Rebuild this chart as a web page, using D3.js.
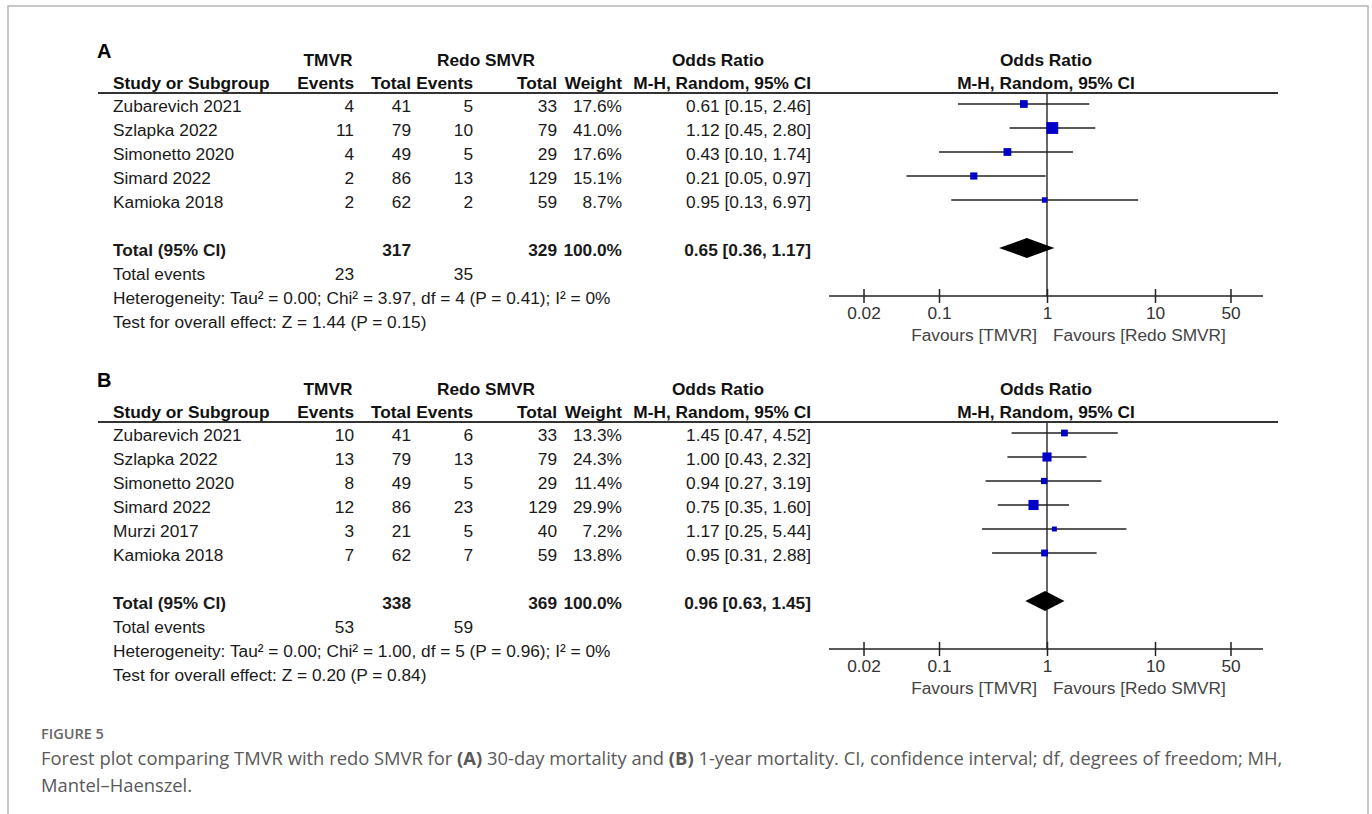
<!DOCTYPE html>
<html><head><meta charset="utf-8">
<script src="https://cdn.jsdelivr.net/npm/d3@7"></script>
<style>body{margin:0;background:#fff;} svg{display:block;}</style>
</head><body>
<svg id="c" width="1372" height="814"></svg>
<script>
// ---------- DATA ----------
const studiesA = ["Zubarevich 2021","Szlapka 2022","Simonetto 2020","Simard 2022","Kamioka 2018"];
const tmvrEventsA = [4,11,4,2,2];
const tmvrTotalA = [41,79,49,86,62];
const redoEventsA = [5,10,5,13,2];
const redoTotalA = [33,79,29,129,59];
const weightA = [17.6,41.0,17.6,15.1,8.7];
const orA = [0.61,1.12,0.43,0.21,0.95];
const lowA = [0.15,0.45,0.10,0.05,0.13];
const highA = [2.46,2.80,1.74,0.97,6.97];
const totalA = {tmvr:317, redo:329, or:0.65, low:0.36, high:1.17, evT:23, evR:35,
  het:"Heterogeneity: Tau² = 0.00; Chi² = 3.97, df = 4 (P = 0.41); I² = 0%",
  test:"Test for overall effect: Z = 1.44 (P = 0.15)"};

const studiesB = ["Zubarevich 2021","Szlapka 2022","Simonetto 2020","Simard 2022","Murzi 2017","Kamioka 2018"];
const tmvrEventsB = [10,13,8,12,3,7];
const tmvrTotalB = [41,79,49,86,21,62];
const redoEventsB = [6,13,5,23,5,7];
const redoTotalB = [33,79,29,129,40,59];
const weightB = [13.3,24.3,11.4,29.9,7.2,13.8];
const orB = [1.45,1.00,0.94,0.75,1.17,0.95];
const lowB = [0.47,0.43,0.27,0.35,0.25,0.31];
const highB = [4.52,2.32,3.19,1.60,5.44,2.88];
const totalB = {tmvr:338, redo:369, or:0.96, low:0.63, high:1.45, evT:53, evR:59,
  het:"Heterogeneity: Tau² = 0.00; Chi² = 1.00, df = 5 (P = 0.96); I² = 0%",
  test:"Test for overall effect: Z = 0.20 (P = 0.84)"};

const tickValues = [0.02, 0.1, 1, 10, 50];
const tickLabels = ["0.02","0.1","1","10","50"];

// ---------- DRAW ----------
const svg = d3.select("#c");
svg.append("path").attr("d","M8,814 L8,6 L1368,6 L1368,814")
  .attr("fill","none").attr("stroke","#b5b5b5").attr("stroke-width",1.5);

const FONT = "'Liberation Sans', Arial, sans-serif";
const FS = 17.3;
const x = d3.scaleLog().domain([0.01,100]).range([831,1263]);
const col = {ev1:354, tot1:411, ev2:473, tot2:557, wt:622, ci:811};
const fmt2 = d3.format(".2f");
const fmtW = d3.format(".1f");
const BASE = 8; // baseline offset from row centre

function txt(g, s, xx, yc, anchor, bold, color, fs){
  return g.append("text").attr("x",xx).attr("y",yc + BASE)
    .attr("text-anchor",anchor||"start")
    .attr("font-family",FONT).attr("font-size",fs||FS)
    .attr("font-weight",bold?"bold":"normal")
    .attr("fill",color||"#1a1a1a").text(s);
}

function panel(label, u, studies, te, tt, re, rt, w, or, lo, hi, tot){
  const g = svg.append("g");
  g.append("text").attr("x",97).attr("y",u-35).attr("font-family",FONT)
    .attr("font-size",20).attr("font-weight","bold").attr("fill","#000").text(label);
  const h1 = u-35;
  txt(g,"TMVR",328,h1,"middle",true,"#111");
  txt(g,"Redo SMVR",486,h1,"middle",true,"#111");
  txt(g,"Odds Ratio",718,h1,"middle",true,"#111");
  txt(g,"Odds Ratio",1046,h1,"middle",true,"#111");
  const h2 = u-12;
  txt(g,"Study or Subgroup",113,h2,"start",true,"#111");
  txt(g,"Events",col.ev1,h2,"end",true,"#111");
  txt(g,"Total",col.tot1,h2,"end",true,"#111");
  txt(g,"Events",col.ev2,h2,"end",true,"#111");
  txt(g,"Total",col.tot2,h2,"end",true,"#111");
  txt(g,"Weight",col.wt,h2,"end",true,"#111");
  txt(g,"M-H, Random, 95% CI",col.ci,h2,"end",true,"#111");
  txt(g,"M-H, Random, 95% CI",1046,h2,"middle",true,"#111");
  g.append("line").attr("x1",98).attr("x2",1278).attr("y1",u).attr("y2",u)
    .attr("stroke","#333").attr("stroke-width",2);

  const y = d3.scaleLinear().domain([0,1]).range([u+11, u+35]);
  const n = studies.length;
  const yTot = y(n+1);
  const yEv = y(n+2), yHet = y(n+3), yTest = y(n+4);
  const yAxis = yHet;

  g.append("line").attr("x1",x(1)).attr("x2",x(1)).attr("y1",u).attr("y2",yAxis)
    .attr("stroke","#333").attr("stroke-width",1.5);

  studies.forEach((s,i)=>{
    const yc = y(i);
    txt(g,s,113,yc);
    txt(g,te[i],col.ev1,yc,"end");
    txt(g,tt[i],col.tot1,yc,"end");
    txt(g,re[i],col.ev2,yc,"end");
    txt(g,rt[i],col.tot2,yc,"end");
    txt(g,fmtW(w[i])+"%",col.wt,yc,"end");
    txt(g,`${fmt2(or[i])} [${fmt2(lo[i])}, ${fmt2(hi[i])}]`,col.ci,yc,"end");
    g.append("line").attr("x1",x(lo[i])).attr("x2",x(hi[i])).attr("y1",yc).attr("y2",yc)
      .attr("stroke","#222").attr("stroke-width",1.5);
    const side = 1.85*Math.sqrt(w[i]);
    g.append("rect").attr("x",x(or[i])-side/2).attr("y",yc-side/2)
      .attr("width",side).attr("height",side).attr("fill","#0000c8");
  });

  txt(g,"Total (95% CI)",113,yTot,"start",true);
  txt(g,tot.tmvr,col.tot1,yTot,"end",true);
  txt(g,tot.redo,col.tot2,yTot,"end",true);
  txt(g,"100.0%",col.wt,yTot,"end",true);
  txt(g,`${fmt2(tot.or)} [${fmt2(tot.low)}, ${fmt2(tot.high)}]`,col.ci,yTot,"end",true);
  g.append("polygon").attr("points",[
      [x(tot.low),yTot],[x(tot.or),yTot-10],[x(tot.high),yTot],[x(tot.or),yTot+10]
    ].map(p=>p.join(",")).join(" ")).attr("fill","#000");
  txt(g,"Total events",113,yEv);
  txt(g,tot.evT,col.ev1,yEv,"end");
  txt(g,tot.evR,col.ev2,yEv,"end");
  txt(g,tot.het,113,yHet);
  txt(g,tot.test,113,yTest);

  const ax = g.append("g").attr("transform",`translate(0,${yAxis})`)
    .call(d3.axisBottom(x).tickValues(tickValues).tickFormat((d,i)=>tickLabels[i]).tickSizeOuter(0).tickSize(7));
  ax.select(".domain").attr("stroke","#222").attr("stroke-width",1.5).attr("d","M829,0H1263");
  ax.selectAll(".tick line").attr("y1",-7).attr("y2",7).attr("stroke","#222").attr("stroke-width",1.5);
  ax.selectAll(".tick text").attr("y",11).attr("dy","0.71em").attr("font-family",FONT)
    .attr("font-size",FS).attr("fill","#333");
  txt(g,"Favours [TMVR]",1037,yAxis+37,"end",false,"#444");
  txt(g,"Favours [Redo SMVR]",1053,yAxis+37,"start",false,"#444");
}

panel("A", 93, studiesA, tmvrEventsA, tmvrTotalA, redoEventsA, redoTotalA, weightA, orA, lowA, highA, totalA);
panel("B", 422, studiesB, tmvrEventsB, tmvrTotalB, redoEventsB, redoTotalB, weightB, orB, lowB, highB, totalB);

// caption
const CF = "'Open Sans', 'Noto Sans', sans-serif";
svg.append("text").attr("x",41).attr("y",739).attr("font-family",CF).attr("font-size",14.5)
  .attr("font-weight",600).attr("fill","#666").text("FIGURE 5");
const c1 = svg.append("text").attr("x",41).attr("y",765).attr("font-family",CF)
  .attr("font-size",16.5).attr("fill","#595959");
c1.append("tspan").text("Forest plot comparing TMVR with redo SMVR for ");
c1.append("tspan").attr("font-weight","bold").text("(A)");
c1.append("tspan").text(" 30-day mortality and ");
c1.append("tspan").attr("font-weight","bold").text("(B)");
c1.append("tspan").text(" 1-year mortality. CI, confidence interval; df, degrees of freedom; MH,");
const c2 = svg.append("text").attr("x",41).attr("y",792).attr("font-family",CF)
  .attr("font-size",16.5).attr("fill","#595959").text("Mantel–Haenszel.");
// fit caption width to the figure's text block
const w1 = c1.node().getComputedTextLength();
const cfs = 16.5 * 1242 / w1;
c1.attr("font-size", cfs); c2.attr("font-size", cfs);
</script>
</body></html>
